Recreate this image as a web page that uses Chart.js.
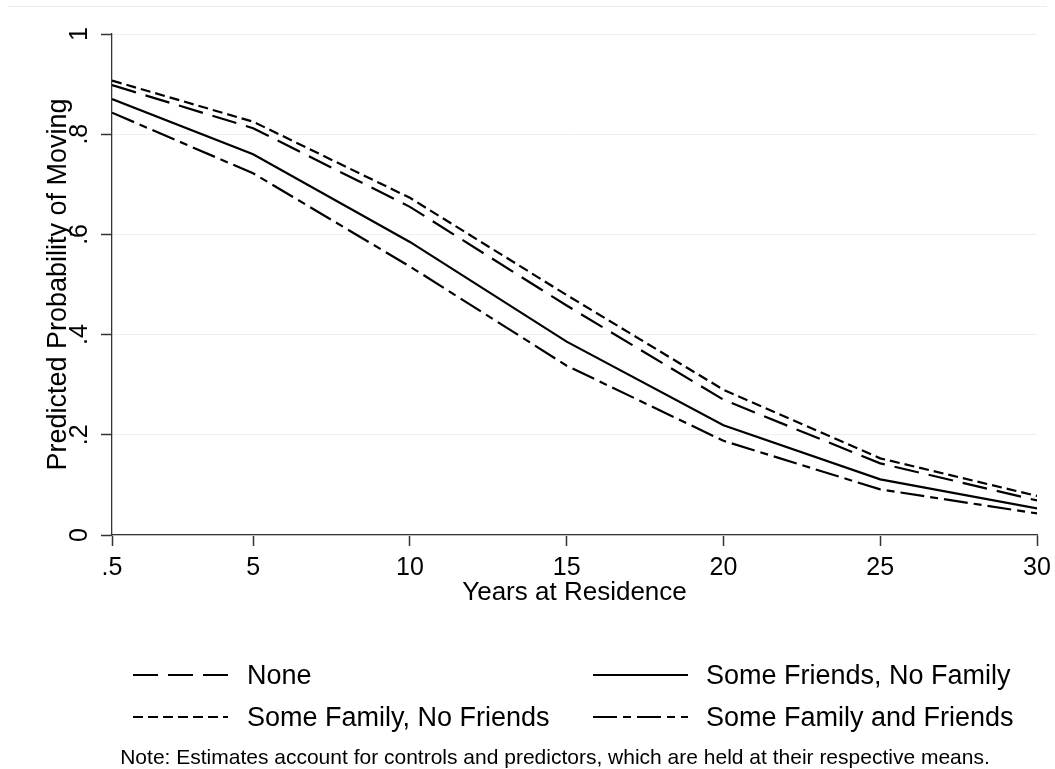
<!DOCTYPE html>
<html><head><meta charset="utf-8">
<script src="https://cdn.jsdelivr.net/npm/chart.js@4.4.1/dist/chart.umd.min.js"></script>
<style>
html,body{margin:0;padding:0;background:#fff;}
#wrap{position:relative;width:1055px;height:769px;overflow:hidden;font-family:"Liberation Sans",Arial,sans-serif;}
#c{position:absolute;left:0;top:0;}
#frame{position:absolute;left:8px;right:8px;top:6px;height:1px;background:#ececec;}
.lg-line{position:absolute;}
.lg-text{position:absolute;font-size:27px;line-height:30px;height:30px;white-space:nowrap;color:#000;}
#note{position:absolute;font-size:21px;line-height:24px;white-space:nowrap;color:#000;text-align:center;}
</style></head>
<body><div id="wrap"><div id="frame"></div><canvas id="c" width="1055" height="769"></canvas><div id="legend"></div><div id="note"></div></div>
<script>
// ---- data ----
const years = [0.5, 5, 10, 15, 20, 25, 30];
const seriesNames = ["None", "Some Friends, No Family", "Some Family, No Friends", "Some Family and Friends"];
const noneVals = [0.898, 0.812, 0.655, 0.458, 0.270, 0.143, 0.069];
const friendsNoFamilyVals = [0.870, 0.760, 0.585, 0.386, 0.219, 0.111, 0.053];
const familyNoFriendsVals = [0.907, 0.825, 0.673, 0.479, 0.290, 0.153, 0.078];
const familyAndFriendsVals = [0.843, 0.722, 0.536, 0.338, 0.188, 0.091, 0.043];
const xTickValues = [0.5, 5, 10, 15, 20, 25, 30];
const xTickLabels = [".5", "5", "10", "15", "20", "25", "30"];
const yTickValues = [0, 0.2, 0.4, 0.6, 0.8, 1];
const yTickLabels = ["0", ".2", ".4", ".6", ".8", "1"];
const xTitle = "Years at Residence";
const yTitle = "Predicted Probability of Moving";
const noteText = "Note: Estimates account for controls and predictors, which are held at their respective means.";

// ---- styles ----
const FONT = '"Liberation Sans", Arial, sans-serif';
const dashes = [[25, 10], [], [10, 5], [24, 6, 8, 6]];
const allVals = [noneVals, friendsNoFamilyVals, familyNoFriendsVals, familyAndFriendsVals];

const datasets = allVals.map((vals, i) => ({
  label: seriesNames[i],
  data: years.map((x, j) => ({x: x, y: vals[j]})),
  borderColor: '#000',
  borderWidth: 2.2,
  borderDash: dashes[i],
  pointRadius: 0,
  tension: 0,
  fill: false
}));

const chart = new Chart(document.getElementById('c'), {
  type: 'line',
  data: {datasets: datasets},
  options: {
    responsive: false,
    animation: false,
    layout: {padding: {left: 0, right: 18, top: 34, bottom: 154}},
    plugins: {legend: {display: false}, tooltip: {enabled: false}},
    scales: {
      x: {
        type: 'linear',
        min: 0.5, max: 30,
        afterBuildTicks: s => { s.ticks = xTickValues.map(v => ({value: v})); },
        afterFit: s => { s.height = 80; s.paddingLeft = 0; s.paddingRight = 0; },
        ticks: {
          callback: (v) => xTickLabels[xTickValues.indexOf(v)],
          font: {family: FONT, size: 25},
          color: '#000',
          padding: 7,
          maxRotation: 0, minRotation: 0, autoSkip: false
        },
        grid: {drawOnChartArea: false, drawTicks: true, tickLength: 11, tickColor: '#333', tickWidth: 1.5},
        border: {display: true, color: '#333', width: 1.3},
        title: {display: true, text: xTitle, font: {family: FONT, size: 26}, color: '#000', padding: {top: 0, bottom: 7}}
      },
      y: {
        type: 'linear',
        min: 0, max: 1,
        afterBuildTicks: s => { s.ticks = yTickValues.map(v => ({value: v})); },
        afterFit: s => { s.width = 112; s.paddingTop = 0; s.paddingBottom = 0; },
        ticks: {
          callback: (v) => yTickLabels[yTickValues.indexOf(v)],
          font: {family: FONT, size: 25},
          color: '#000',
          padding: 10,
          minRotation: 90, maxRotation: 90,
          crossAlign: 'center',
          autoSkip: false
        },
        grid: {color: '#eeeeee', lineWidth: 1, drawTicks: true, tickLength: 11, tickColor: '#333', tickWidth: 1.5},
        border: {display: true, color: '#333', width: 1.3},
        title: {display: true, text: yTitle, font: {family: FONT, size: 27}, color: '#000', padding: {top: 42, bottom: 0}}
      }
    }
  }
});

// ---- legend (HTML, built from datasets) ----
const legend = document.getElementById('legend');
const colSampleX = [133, 593], colTextX = [247, 706], rowY = [675, 717];
const sampleW = 95;
chart.data.datasets.forEach((ds, i) => {
  const col = i % 2, row = Math.floor(i / 2);
  const svgNS = 'http://www.w3.org/2000/svg';
  const svg = document.createElementNS(svgNS, 'svg');
  svg.setAttribute('width', sampleW); svg.setAttribute('height', 6);
  svg.setAttribute('class', 'lg-line');
  svg.style.left = colSampleX[col] + 'px';
  svg.style.top = (rowY[row] - 3) + 'px';
  const ln = document.createElementNS(svgNS, 'line');
  ln.setAttribute('x1', 0); ln.setAttribute('x2', sampleW);
  ln.setAttribute('y1', 3); ln.setAttribute('y2', 3);
  ln.setAttribute('stroke', ds.borderColor);
  ln.setAttribute('stroke-width', ds.borderWidth);
  if (ds.borderDash.length) ln.setAttribute('stroke-dasharray', ds.borderDash.join(' '));
  svg.appendChild(ln);
  legend.appendChild(svg);
  const t = document.createElement('div');
  t.className = 'lg-text';
  t.textContent = ds.label;
  t.style.left = colTextX[col] + 'px';
  t.style.top = (rowY[row] - 15) + 'px';
  legend.appendChild(t);
});
const note = document.getElementById('note');
note.textContent = noteText;
note.style.left = '55px';
note.style.width = '1000px';
note.style.top = (757 - 12) + 'px';
</script>
</body></html>
